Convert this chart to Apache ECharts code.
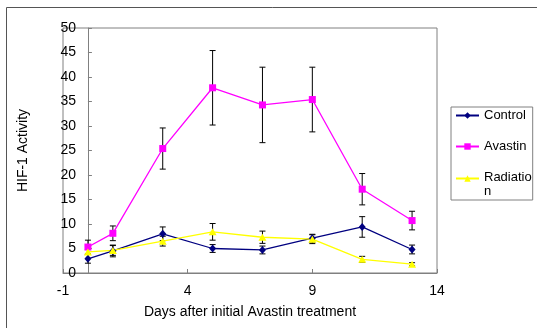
<!DOCTYPE html>
<html>
<head>
<meta charset="utf-8">
<script src="https://cdn.jsdelivr.net/npm/echarts@6/dist/echarts.min.js"></script>
<style>
html,body{margin:0;padding:0;background:#fff;}
#chart{width:537px;height:328px;}
</style>
</head>
<body>
<div id="chart"></div>
<script>
// days on x axis
const days = [0, 1, 3, 5, 7, 9, 11, 13];
const xTicks = [-1, 4, 9, 14];

const control = [2.9, 4.5, 8.0, 5.0, 4.7, 7.1, 9.4, 4.8];
const controlErr = [0.9, 1.2, 1.4, 0.8, 0.8, 0.8, 2.1, 0.9];
const avastin = [5.3, 8.1, 25.4, 37.8, 34.3, 35.4, 17.1, 10.7];
const avastinErr = [1.4, 1.5, 4.2, 7.6, 7.7, 6.6, 3.2, 1.9];
const radiation = [4.3, 4.6, 6.5, 8.4, 7.3, 6.9, 2.8, 1.8];
const radiationErr = [0.5, 1.0, 1.0, 1.7, 1.25, 0.9, 0.6, 0.3];

const FONT = '"Liberation Sans", Arial, sans-serif';

function pts(vals){
  return days.map((d,i)=>[d, vals[i]]);
}
function errs(vals, e){
  return days.map((d,i)=>[d, vals[i]-e[i], vals[i]+e[i]]);
}
function errBar(params, api){
  let x = api.value(0);
  let top = api.coord([x, api.value(2)]);
  let bot = api.coord([x, api.value(1)]);
  let w = 3;
  let st = {stroke:'#000', lineWidth:1};
  return {type:'group', children:[
    {type:'line', shape:{x1:top[0], y1:top[1], x2:bot[0], y2:bot[1]}, style:st},
    {type:'line', shape:{x1:top[0]-w, y1:top[1], x2:top[0]+w, y2:top[1]}, style:st},
    {type:'line', shape:{x1:bot[0]-w, y1:bot[1], x2:bot[0]+w, y2:bot[1]}, style:st}
  ]};
}
function errSeries(name, data){
  return {
    name:name, type:'custom', renderItem:errBar, data:data,
    encode:{x:0, y:[1,2]}, z:1, silent:true
  };
}

var myChart = echarts.init(document.getElementById('chart'));
var option = {
  animation:false,
  textStyle:{fontFamily:FONT},
  graphic:[{
    type:'rect', z:-10,
    shape:{x:6.5, y:7.5, width:600, height:400},
    style:{fill:'none', stroke:'#555', lineWidth:1}
  }],
  grid:{
    left:63, right:100, top:28, bottom:55,
    outerBoundsMode:'none', containLabel:false,
    show:true, borderColor:'#808080', borderWidth:1
  },
  legend:{
    orient:'vertical',
    left:451, top:107,
    padding:[1,1,2,4],
    itemWidth:23, itemHeight:8, itemGap:16,
    borderColor:'#808080', borderWidth:1, backgroundColor:'#fff',
    textStyle:{fontFamily:FONT, fontSize:13, color:'#000', lineHeight:15,
      rich:{
        a:{fontFamily:FONT, fontSize:13, color:'#000', lineHeight:15},
        b:{fontFamily:FONT, fontSize:13, color:'#000', lineHeight:2, verticalAlign:'top'}
      }},
    data:['Control','Avastin','Radiation'],
    // the long label wraps like in the original
    formatter:function(n){ return n==='Radiation' ? '{a|Radiatio}\n{b|n}' : n; }
  },
  xAxis:{
    type:'value', min:-1, max:14, interval:5,
    name:'Days after initial Avastin treatment',
    nameLocation:'middle', nameGap:32,
    nameTextStyle:{fontFamily:FONT, fontSize:14, color:'#000'},
    axisLine:{show:true, lineStyle:{color:'#808080'}},
    axisTick:{show:true, inside:true, length:4, lineStyle:{color:'#808080'}},
    axisLabel:{fontFamily:FONT, fontSize:14, color:'#000', margin:11,
      formatter:function(v){ return xTicks.indexOf(v)>=0 ? String(v) : ''; }},
    splitLine:{show:false}
  },
  yAxis:{
    type:'value', min:0, max:50, interval:5,
    name:'HIF-1 Activity',
    nameLocation:'middle', nameGap:33,
    nameTextStyle:{fontFamily:FONT, fontSize:14, color:'#000'},
    axisLine:{show:true, onZero:true, lineStyle:{color:'#808080'}},
    axisTick:{show:true, inside:true, length:4, lineStyle:{color:'#808080'}},
    axisLabel:{fontFamily:FONT, fontSize:14, color:'#000', margin:-13},
    splitLine:{show:false}
  },
  series:[
    errSeries('errControl', errs(control, controlErr)),
    errSeries('errAvastin', errs(avastin, avastinErr)),
    errSeries('errRadiation', errs(radiation, radiationErr)),
    {
      name:'Control', type:'line', data:pts(control), z:3,
      symbol:'diamond', symbolSize:[7,8],
      lineStyle:{color:'#000080', width:1.3},
      itemStyle:{color:'#000080'}
    },
    {
      name:'Avastin', type:'line', data:pts(avastin), z:3,
      symbol:'rect', symbolSize:7,
      lineStyle:{color:'#FF00FF', width:1.3},
      itemStyle:{color:'#FF00FF'}
    },
    {
      name:'Radiation', type:'line', data:pts(radiation), z:3,
      symbol:'triangle', symbolSize:[8,7],
      lineStyle:{color:'#FFFF00', width:1.3},
      itemStyle:{color:'#FFFF00'}
    }
  ]
};
myChart.setOption(option);
window.addEventListener('resize',()=>{ myChart.resize(); });
</script>
</body>
</html>
